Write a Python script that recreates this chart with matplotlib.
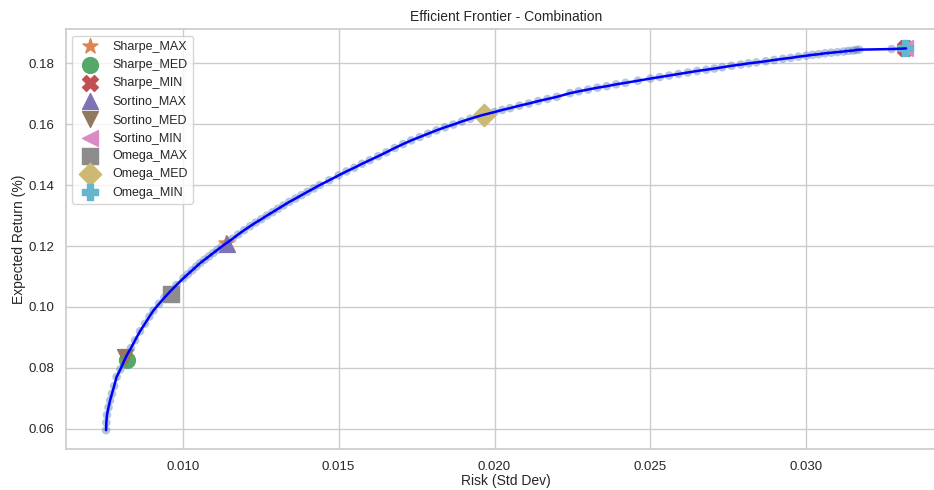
import matplotlib
matplotlib.use("Agg")
import matplotlib.pyplot as plt
import seaborn as sns

# efficient frontier points (risk, expected return)
frontier_risk = [
    0.00754, 0.00755, 0.00757, 0.00762, 0.00767, 0.00773, 0.00780, 0.00788,
    0.00800, 0.00811, 0.00821, 0.00834, 0.00847, 0.00863, 0.00879, 0.00893,
    0.00906, 0.00924, 0.00941, 0.00959, 0.00980, 0.01002, 0.01016, 0.01030,
    0.01043, 0.01056, 0.01070, 0.01084, 0.01098, 0.01112, 0.01126, 0.01141,
    0.01160, 0.01178, 0.01197, 0.01216, 0.01234, 0.01252, 0.01270, 0.01288,
    0.01305, 0.01323, 0.01342, 0.01362, 0.01381, 0.01400, 0.01420, 0.01439,
    0.01470, 0.01500, 0.01525, 0.01550, 0.01575, 0.01600, 0.01627, 0.01653,
    0.01680, 0.01707, 0.01733, 0.01760, 0.01787, 0.01814, 0.01841, 0.01868,
    0.01895, 0.01922, 0.01961, 0.02000, 0.02025, 0.02050, 0.02080, 0.02110,
    0.02140, 0.02170, 0.02200, 0.02242, 0.02270, 0.02300, 0.02330, 0.02360,
    0.02390, 0.02420, 0.02460, 0.02500, 0.02530, 0.02560, 0.02590, 0.02620,
    0.02650, 0.02679, 0.02705, 0.02730, 0.02760, 0.02790, 0.02815, 0.02840,
    0.02870, 0.02897, 0.02925, 0.02950, 0.02975, 0.03000, 0.03020, 0.03040,
    0.03060, 0.03080, 0.03100, 0.03120, 0.03135, 0.03150, 0.03160, 0.03170,
    0.03274, 0.03320,
]
frontier_ret = [
    0.0595, 0.0620, 0.0645, 0.0670, 0.0693, 0.0715, 0.0740, 0.0770,
    0.0795, 0.0820, 0.0842, 0.0865, 0.0890, 0.0920, 0.0945, 0.0968,
    0.0988, 0.1010, 0.1030, 0.1050, 0.1072, 0.1094, 0.1107, 0.1120,
    0.1132, 0.1144, 0.1155, 0.1166, 0.1177, 0.1188, 0.1199, 0.1210,
    0.1224, 0.1238, 0.1252, 0.1265, 0.1277, 0.1288, 0.1300, 0.1311,
    0.1322, 0.1333, 0.1345, 0.1356, 0.1367, 0.1378, 0.1389, 0.1400,
    0.1416, 0.1432, 0.1445, 0.1457, 0.1470, 0.1482, 0.1495, 0.1508,
    0.1522, 0.1535, 0.1547, 0.1558, 0.1569, 0.1580, 0.1590, 0.1599,
    0.1609, 0.1618, 0.1630, 0.1640, 0.1647, 0.1653, 0.1661, 0.1668,
    0.1676, 0.1683, 0.1690, 0.1702, 0.1708, 0.1714, 0.1720, 0.1725,
    0.1731, 0.1736, 0.1743, 0.1750, 0.1755, 0.1760, 0.1765, 0.1770,
    0.1775, 0.1779, 0.1783, 0.1787, 0.1792, 0.1796, 0.1800, 0.1803,
    0.1807, 0.1811, 0.1815, 0.1818, 0.1822, 0.1825, 0.1828, 0.1830,
    0.1833, 0.1835, 0.1837, 0.1839, 0.1841, 0.1842, 0.1844, 0.1845,
    0.1847, 0.1849,
]

# selected portfolios
port_names = ["Sharpe_MAX", "Sharpe_MED", "Sharpe_MIN",
              "Sortino_MAX", "Sortino_MED", "Sortino_MIN",
              "Omega_MAX", "Omega_MED", "Omega_MIN"]
port_risk = [0.01140, 0.00820, 0.03318, 0.01143, 0.00815, 0.03318, 0.00962, 0.01966, 0.03318]
port_ret = [0.1210, 0.0825, 0.1849, 0.1205, 0.0835, 0.1849, 0.1042, 0.1630, 0.1849]
port_markers = ["*", "o", "X", "^", "v", "<", "s", "D", "P"]

sns.set_theme(style="whitegrid")
plt.rcParams["font.family"] = ["Liberation Sans", "DejaVu Sans"]
palette = sns.color_palette("deep")

fig = plt.figure(figsize=(9.34, 4.9), dpi=100)
ax = fig.add_axes([0.0707, 0.0831, 0.9422, 0.857])

# frontier points as a soft halo, line drawn on top
ax.scatter(frontier_risk, frontier_ret, s=38, color=palette[0], alpha=0.4,
           edgecolors="none", zorder=2)

for i, name in enumerate(port_names):
    ax.scatter(port_risk[i], port_ret[i], marker=port_markers[i], s=130,
               color=palette[i + 1], label=name, zorder=3)

ax.plot(frontier_risk, frontier_ret, color="blue", linewidth=1.8, zorder=4)

ax.set_title("Efficient Frontier - Combination", fontsize=10)
ax.set_xlabel("Risk (Std Dev)", fontsize=10, labelpad=1)
ax.set_ylabel("Expected Return (%)", fontsize=10, labelpad=1.5)
ax.tick_params(labelsize=9.5, pad=2.5)
ax.legend(loc="upper left", fontsize=9)

fig.savefig("out.png", dpi=100)
